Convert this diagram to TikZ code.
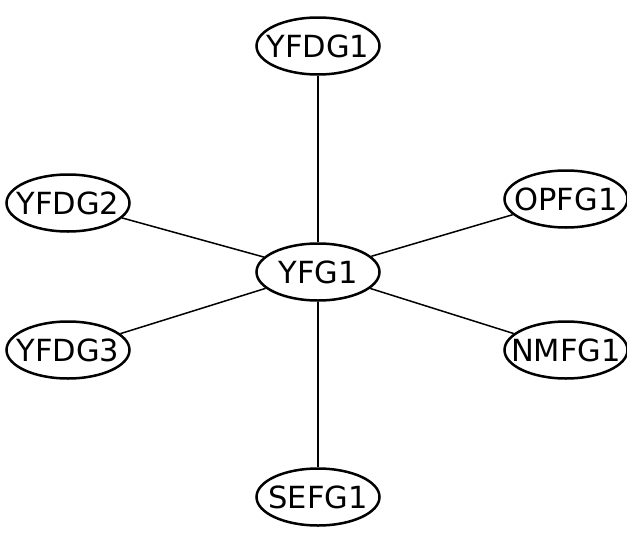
\documentclass[tikz,border=0pt]{standalone}
\usepackage{fontspec}
\setmainfont{DejaVu Sans}
\usetikzlibrary{shapes.geometric}
\tikzset{
  gnode/.style={ellipse, draw, line width=2.5bp, inner sep=0pt,
    minimum width=123bp, minimum height=57bp,
    font=\fontsize{30.5bp}{35bp}\selectfont},
  gedge/.style={line width=1.5bp}
}
\newcommand{\lbl}[1]{\makebox[0pt]{#1}}
\begin{document}
\begin{tikzpicture}
\useasboundingbox (0,0) rectangle (627bp,-536bp);
\node[gnode] (c)  at (318bp,-272bp) {\lbl{YFG1}};
\node[gnode] (t)  at (318bp,-46bp)  {\lbl{YFDG1}};
\node[gnode] (b)  at (318bp,-497bp) {\lbl{SEFG1}};
\node[gnode] (l1) at (68bp,-203bp)  {\lbl{YFDG2}};
\node[gnode] (l2) at (68bp,-350bp)  {\lbl{YFDG3}};
\node[gnode] (r1) at (566bp,-199bp) {\lbl{OPFG1}};
\node[gnode] (r2) at (566bp,-350bp) {\lbl{NMFG1}};
\draw[gedge] (c) -- (t);
\draw[gedge] (c) -- (b);
\draw[gedge] (c) -- (l1);
\draw[gedge] (c) -- (l2);
\draw[gedge] (c) -- (r1);
\draw[gedge] (c) -- (r2);
\end{tikzpicture}
\end{document}
